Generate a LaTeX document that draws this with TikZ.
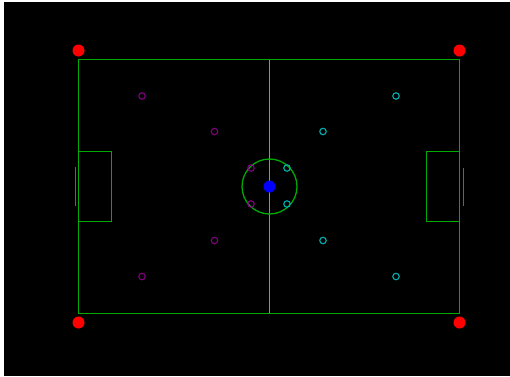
\documentclass[tikz,border=0pt]{standalone}
\begin{document}
\begin{tikzpicture}[x=1bp,y=-1bp,
  fieldfill/.style={fill={rgb,255:red,0;green,170;blue,0}},
  midfill/.style={fill={rgb,255:red,60;green,200;blue,60}},
  fieldline/.style={draw={rgb,255:red,0;green,170;blue,0},line width=1.3bp},
  corner/.style={circle,fill={rgb,255:red,255;green,0;blue,0},inner sep=0pt,minimum size=12bp},
  ballst/.style={circle,fill={rgb,255:red,0;green,0;blue,255},inner sep=0pt,minimum size=12bp},
  teamA/.style={circle,draw={rgb,255:red,128;green,0;blue,128},line width=1.1bp,inner sep=0pt,minimum size=6.5bp},
  teamB/.style={circle,draw={rgb,255:red,0;green,175;blue,175},line width=1.1bp,inner sep=0pt,minimum size=6.5bp}]
\useasboundingbox (0,0) rectangle (510,376);
\fill[white] (0,0) rectangle (510,376);
\fill[black] (4,2) rectangle (510,376);
% field border
\fill[fieldfill] (78,59) rectangle (460,60);
\fill[fieldfill] (78,313) rectangle (460,314);
\fill[fieldfill] (78,59) rectangle (79,314);
\fill[fieldfill] (459,59) rectangle (460,314);
% half-way line
\fill[midfill] (269,60) rectangle (270,313);
\draw[fieldline] (269.5,186.5) circle (27.5);
% penalty boxes
\fill[fieldfill] (79,151) rectangle (112,152);
\fill[fieldfill] (79,221) rectangle (112,222);
\fill[fieldfill] (111,151) rectangle (112,222);
\fill[fieldfill] (426,151) rectangle (459,152);
\fill[fieldfill] (426,221) rectangle (459,222);
\fill[fieldfill] (426,151) rectangle (427,222);
% goals
\fill[fieldfill] (75,167) rectangle (76,206);
\fill[fieldfill] (463,168) rectangle (464,206);
% corners
\node[corner] (c1) at (78.5,50.5) {};
\node[corner] (c2) at (459.5,50.5) {};
\node[corner] (c3) at (78.5,322.5) {};
\node[corner] (c4) at (459.5,322.5) {};
% ball
\node[ballst] (ball) at (269.5,186.5) {};
% team A
\node[teamA] (a1) at (142,96) {};
\node[teamA] (a2) at (214.5,131.5) {};
\node[teamA] (a3) at (251,168) {};
\node[teamA] (a4) at (251,204) {};
\node[teamA] (a5) at (214.5,240.5) {};
\node[teamA] (a6) at (142,276.5) {};
% team B
\node[teamB] (b1) at (396,96) {};
\node[teamB] (b2) at (323,131.5) {};
\node[teamB] (b3) at (287,168) {};
\node[teamB] (b4) at (287,204) {};
\node[teamB] (b5) at (323,240.5) {};
\node[teamB] (b6) at (396,276.5) {};
\end{tikzpicture}
\end{document}
